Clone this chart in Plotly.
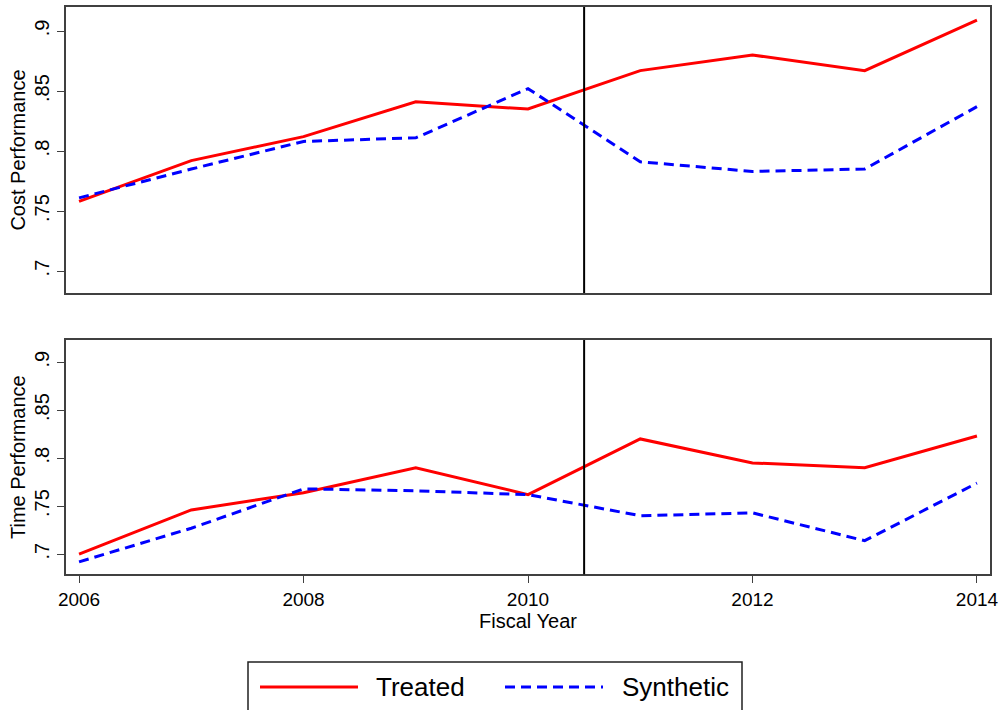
import plotly.graph_objects as go
from plotly.subplots import make_subplots

# Data
years = [2006, 2007, 2008, 2009, 2010, 2011, 2012, 2013, 2014]
cost_treated = [0.758, 0.792, 0.812, 0.841, 0.835, 0.867, 0.880, 0.867, 0.909]
cost_synthetic = [0.761, 0.785, 0.808, 0.811, 0.852, 0.791, 0.783, 0.785, 0.837]
time_treated = [0.700, 0.746, 0.764, 0.790, 0.762, 0.820, 0.795, 0.790, 0.823]
time_synthetic = [0.692, 0.727, 0.768, 0.766, 0.762, 0.740, 0.743, 0.714, 0.774]
treatment_year = 2010.5
y_ticks = [0.7, 0.75, 0.8, 0.85, 0.9]
y_ticktext = [".7", ".75", ".8", ".85", ".9"]
x_ticks = [2006, 2008, 2010, 2012, 2014]
series_names = ["Treated", "Synthetic"]

FONT = "Liberation Sans, Arial, sans-serif"
RED = "#ff0000"
BLUE = "#0000ff"
DASH = "10px,6px"
W, H = 1002, 710

fig = make_subplots(rows=2, cols=1)

panels = [(1, cost_treated, cost_synthetic), (2, time_treated, time_synthetic)]
for row, treated, synthetic in panels:
    fig.add_trace(go.Scatter(x=years, y=treated, mode="lines", name=series_names[0],
                             line=dict(color=RED, width=3)), row=row, col=1)
    fig.add_trace(go.Scatter(x=years, y=synthetic, mode="lines", name=series_names[1],
                             line=dict(color=BLUE, width=3, dash=DASH)), row=row, col=1)
    # treatment start marker
    fig.add_vline(x=treatment_year, line=dict(color="black", width=2), row=row, col=1)

axis_common = dict(showline=True, linecolor="#404040", linewidth=1.5, mirror=True,
                   showgrid=False, zeroline=False, automargin=False)

fig.update_xaxes(range=[2005.884, 2014.116], **axis_common)
fig.update_yaxes(tickvals=y_ticks, ticktext=y_ticktext, tickangle=-90,
                 ticks="outside", ticklen=7, tickcolor="#404040",
                 tickfont=dict(size=20, color="black", family=FONT),
                 **axis_common)

title_font = dict(size=20, color="black", family=FONT)
fig.update_layout(
    xaxis=dict(domain=[0.0659, 0.988], showticklabels=False, ticks=""),
    xaxis2=dict(domain=[0.0659, 0.988], tickvals=x_ticks, ticks="outside",
                ticklen=7, tickcolor="#404040",
                tickfont=dict(size=19, color="black", family=FONT),
                title=dict(text="Fiscal Year", standoff=0, font=title_font)),
    yaxis=dict(domain=[0.5873, 0.9901], range=[0.6817, 0.92],
               title=dict(text="Cost Performance", standoff=0, font=title_font)),
    yaxis2=dict(domain=[0.1911, 0.5211], range=[0.679, 0.923],
                title=dict(text="Time Performance", standoff=0, font=title_font)),
    showlegend=False,
    width=W, height=H,
    margin=dict(l=0, r=0, t=0, b=0),
    plot_bgcolor="white", paper_bgcolor="white",
)

# Stata-style legend box below the panels, with long line samples
def px(x):
    return x / W

def py(y):
    return 1 - y / H

fig.add_shape(type="rect", xref="paper", yref="paper",
              x0=px(248), x1=px(742), y0=py(730), y1=py(662),
              line=dict(color="#202020", width=1.5), fillcolor="white")
legend_items = [(series_names[0], RED, "solid", 260, 374),
                (series_names[1], BLUE, DASH, 505, 620)]
for name, color, dash, x_line, x_text in legend_items:
    fig.add_shape(type="line", xref="paper", yref="paper",
                  x0=px(x_line), x1=px(x_line + 98), y0=py(687), y1=py(687),
                  line=dict(color=color, width=3, dash=dash))
    fig.add_annotation(text=name, xref="paper", yref="paper", x=px(x_text), y=py(687),
                       xanchor="left", yanchor="middle", showarrow=False,
                       font=dict(size=26, color="black", family=FONT))

fig.write_html("out.html", config={"displayModeBar": False},
               post_script="document.body.style.margin='0px';")
